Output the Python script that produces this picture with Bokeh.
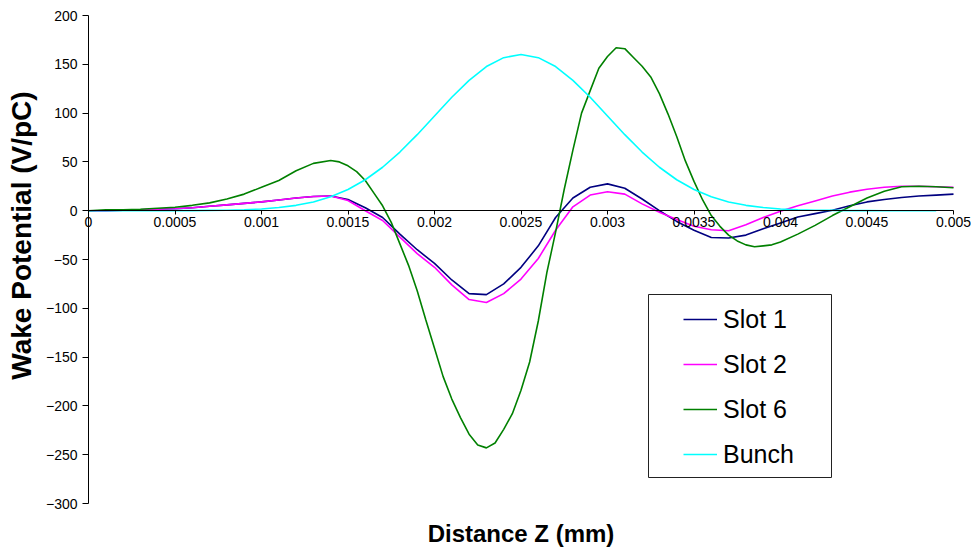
import math
from bokeh.plotting import figure
from bokeh.models import (Range1d, FixedTicker, Legend, LegendItem, BoxAnnotation, Label)
from bokeh.embed import file_html
from bokeh.resources import INLINE

FONT = "Liberation Sans"

# ---------------- data ----------------
z = [0.0, 0.0001, 0.0002, 0.0003, 0.0004, 0.0005, 0.0006, 0.0007, 0.0008, 0.0009,
     0.0010, 0.0011, 0.0012, 0.0013, 0.0014, 0.0015, 0.0016, 0.0017, 0.0018, 0.0019,
     0.0020, 0.0021, 0.0022, 0.0023, 0.0024, 0.0025, 0.0026, 0.0027, 0.0028, 0.0029,
     0.0030, 0.0031, 0.0032, 0.0033, 0.0034, 0.0035, 0.0036, 0.0037, 0.0038, 0.0039,
     0.0040, 0.0041, 0.0042, 0.0043, 0.0044, 0.0045, 0.0046, 0.0047, 0.0048, 0.0049,
     0.0050]

slot1 = [0, 0, 0.5, 1, 1.5, 2, 3, 4.5, 6, 7.5,
         9, 11, 13, 14.5, 15, 11.5, 3, -7, -24, -40,
         -54, -71, -85, -86, -75, -58, -36, -7, 13, 24,
         27.5, 23, 12, 0, -11, -20, -27.5, -28, -25, -18.5,
         -12.5, -6.5, -3, 0.5, 5, 9, 11.5, 13.5, 15, 16,
         17]

slot2 = [0, 0, 0.5, 1, 1.5, 2, 3, 4.5, 6, 7.5,
         9, 11, 13, 14.5, 15, 10.5, 0, -10, -27, -44,
         -58, -76, -91, -94, -85, -70, -49, -20, 4, 16,
         19.5, 17, 7, -1.5, -9, -16, -19.5, -20.5, -14.5, -7,
         -0.5, 5, 10, 15, 19, 22, 24, 25, 25, 24.5,
         24]

z_bunch = [0.0, 0.0001, 0.0002, 0.0003, 0.0004, 0.0005, 0.0006, 0.0007, 0.0008, 0.0009,
           0.0010, 0.0011, 0.0012, 0.0013, 0.0014, 0.0015, 0.0016, 0.0017, 0.0018, 0.0019,
           0.0020, 0.0021, 0.0022, 0.0023, 0.0024, 0.0025, 0.0026, 0.0027, 0.0028, 0.0029,
           0.0030, 0.0031, 0.0032, 0.0033, 0.0034, 0.0035, 0.0036, 0.0037, 0.0038, 0.0039,
           0.0040, 0.0041, 0.0042, 0.0043, 0.0044, 0.0045, 0.0046, 0.0047, 0.0048, 0.0049]

bunch = [0, 0, 0, 0, 0, 0.1, 0.1, 0.3, 0.5, 1.0,
         1.8, 3.2, 5.5, 9.0, 14.2, 21.7, 31.7, 44.5, 60.1, 77.9,
         97.0, 116.2, 133.6, 147.7, 156.8, 160.0, 156.8, 147.7, 133.6, 116.2,
         97.0, 77.9, 60.1, 44.5, 31.7, 21.7, 14.2, 9.0, 5.5, 3.2,
         1.8, 1.0, 0.5, 0.3, 0.1, 0.1, 0, 0, 0, 0]

z_slot6 = [0.0, 0.0001, 0.0002, 0.0003, 0.0004, 0.0005, 0.0006, 0.0007, 0.0008, 0.0009,
           0.0010, 0.0011, 0.0012, 0.0013, 0.0014,
           0.00145, 0.0015, 0.00155, 0.0016, 0.00165, 0.0017, 0.00175, 0.0018, 0.00185, 0.0019,
           0.00195, 0.0020, 0.00205, 0.0021, 0.00215, 0.0022, 0.00225, 0.0023, 0.00235, 0.0024,
           0.00245, 0.0025, 0.00255, 0.0026, 0.00265, 0.0027, 0.00275, 0.0028, 0.00285, 0.0029,
           0.00295, 0.0030, 0.00305, 0.0031, 0.00315, 0.0032, 0.00325, 0.0033, 0.00335, 0.0034,
           0.00345, 0.0035, 0.00355, 0.0036, 0.00365, 0.0037, 0.00375, 0.0038, 0.00385, 0.0039,
           0.00395, 0.0040,
           0.0041, 0.0042, 0.0043, 0.0044, 0.0045, 0.0046, 0.0047, 0.0048, 0.0049, 0.0050]

slot6 = [0, 1, 1, 1.5, 2.5, 3.5, 5.5, 8, 12, 17,
         24, 31, 41, 48.5, 51.5,
         50, 46, 40, 31, 18, 5, -12, -34, -56, -82,
         -112, -141, -170, -193, -212, -229, -240, -243, -238, -224,
         -208, -184, -155, -113, -63, -22, 22, 62, 100, 123,
         146, 158, 167, 166, 157, 148, 137, 120, 99, 76,
         51, 30, 11, -5, -16, -25, -31, -35, -37, -36,
         -35, -32,
         -24, -15, -5, 4, 13, 20, 24.5, 25, 24.5, 23.5]

series_names = ["Slot 1", "Slot 2", "Slot 6", "Bunch"]
series_colors = ["#000080", "#FF00FF", "#008000", "#00FFFF"]

x_ticks = [0.0, 0.0005, 0.001, 0.0015, 0.002, 0.0025, 0.003, 0.0035, 0.004, 0.0045, 0.005]
x_tick_labels = ["0", "0.0005", "0.001", "0.0015", "0.002", "0.0025", "0.003",
                 "0.0035", "0.004", "0.0045", "0.005"]
y_ticks = [-300, -250, -200, -150, -100, -50, 0, 50, 100, 150, 200]

X_MIN, X_MAX = 0.0, 0.005
Y_MIN, Y_MAX = -300, 200

# ---------------- layout ----------------
# The frame fills the whole canvas so nothing is clipped; the visible plot area
# (axes) sits at these pixel edges.
W, H = 971, 549
AREA_L, AREA_R, AREA_T, AREA_B = 88, 953, 15, 503
sx = (AREA_R - AREA_L) / (X_MAX - X_MIN)
sy = (AREA_B - AREA_T) / (Y_MAX - Y_MIN)
x_range = Range1d(X_MIN - AREA_L / sx, X_MAX + (W - AREA_R) / sx)
y_range = Range1d(Y_MIN - (H - AREA_B) / sy, Y_MAX + AREA_T / sy)

p = figure(width=W, height=H, output_backend="svg", toolbar_location=None,
           x_range=x_range, y_range=y_range, min_border=0)
p.outline_line_color = None
p.xgrid.visible = False
p.ygrid.visible = False
p.background_fill_color = "white"
p.border_fill_color = "white"

# x axis along y = 0
xa = p.xaxis[0]
xa.fixed_location = 0
xa.bounds = (X_MIN, X_MAX)
xa.ticker = FixedTicker(ticks=x_ticks)
xa.major_label_overrides = dict(zip(x_ticks, x_tick_labels))
xa.axis_line_color = "black"
xa.axis_line_width = 1
xa.major_tick_line_color = "black"
xa.major_tick_out = 4
xa.major_tick_in = 0
xa.minor_tick_line_color = None
xa.major_label_standoff = 2
xa.major_label_text_font = FONT
xa.major_label_text_font_size = "14px"
xa.major_label_text_color = "black"

# y axis along x = 0
ya = p.yaxis[0]
ya.fixed_location = 0
ya.bounds = (Y_MIN, Y_MAX)
ya.ticker = FixedTicker(ticks=y_ticks)
ya.axis_line_color = "black"
ya.major_tick_line_color = "black"
ya.major_tick_out = 6
ya.major_tick_in = 0
ya.minor_tick_line_color = None
ya.major_label_standoff = 5
ya.major_label_text_font = FONT
ya.major_label_text_font_size = "14px"
ya.major_label_text_color = "black"

# axis titles
p.add_layout(Label(x=21, y=H - 235, x_units="screen", y_units="screen",
                   text="Wake Potential (V/pC)", angle=math.pi / 2,
                   text_align="center", text_baseline="middle",
                   text_font=FONT, text_font_size="28px", text_font_style="bold",
                   text_color="black"))
p.add_layout(Label(x=(AREA_L + AREA_R) / 2, y=H - 533, x_units="screen", y_units="screen",
                   text="Distance Z (mm)", text_align="center", text_baseline="middle",
                   text_font=FONT, text_font_size="24px", text_font_style="bold",
                   text_color="black"))

# ---------------- lines ----------------
r1 = p.line(z, slot1, line_color=series_colors[0], line_width=1.6)
r2 = p.line(z, slot2, line_color=series_colors[1], line_width=1.6)
r6 = p.line(z_slot6, slot6, line_color=series_colors[2], line_width=1.6)
rb = p.line(z_bunch, bunch, line_color=series_colors[3], line_width=1.6)

# ---------------- legend ----------------
legend_frame = BoxAnnotation(left=648, right=831, top=H - 294, bottom=H - 477,
                             left_units="screen", right_units="screen",
                             top_units="screen", bottom_units="screen",
                             fill_color="white", fill_alpha=1.0,
                             line_color="#222222", line_width=1, line_alpha=1.0)
p.add_layout(legend_frame)

legend = Legend(items=[LegendItem(label=n, renderers=[r]) for n, r in
                       zip(series_names, [r1, r2, r6, rb])],
                location=(683, H - 469), orientation="vertical", padding=0, margin=0,
                spacing=15, glyph_width=34, glyph_height=30, label_height=30,
                label_standoff=6, label_text_font=FONT, label_text_font_size="25px",
                label_text_color="black", border_line_color=None,
                background_fill_alpha=0)
p.add_layout(legend)

open("out.html", "w").write(file_html(p, INLINE))
